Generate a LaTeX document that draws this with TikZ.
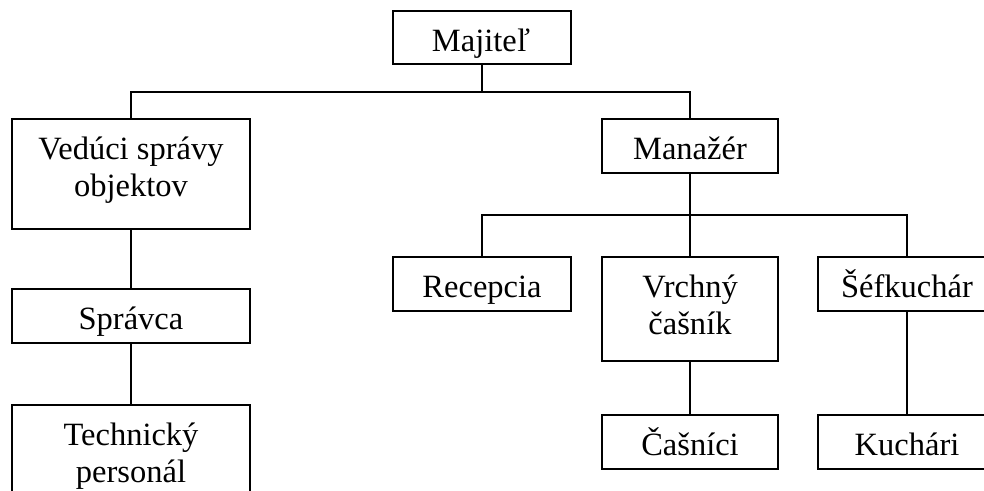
\documentclass[tikz,border=0pt]{standalone}
\usepackage{fontspec}
\setmainfont{Liberation Serif}
\begin{document}
\begin{tikzpicture}[x=1pt,y=-1pt,
  box/.style={draw=black, line width=1.7pt, rectangle, inner sep=0pt, minimum width=#1},
  box/.default=178pt,
  lbl/.style={anchor=base, inner sep=0pt, font=\fontsize{32.5}{37}\selectfont},
  conn/.style={draw=black, line width=1.5pt}]
\useasboundingbox (0,0) rectangle (984,490);
\clip (0,0) rectangle (984,490);
% boxes
\node[box=178pt, minimum height=53pt]  (maj)  at (482,37.5) {};
\node[box=238pt, minimum height=110pt] (ved)  at (131,174) {};
\node[box=176pt, minimum height=54pt]  (man)  at (690,146) {};
\node[box=238pt, minimum height=54pt]  (spr)  at (131,316) {};
\node[box=238pt, minimum height=110pt] (tech) at (131,460) {};
\node[box=178pt, minimum height=54pt]  (rec)  at (482,284) {};
\node[box=176pt, minimum height=104pt] (vrch) at (690,309) {};
\node[box=178pt, minimum height=54pt]  (sef)  at (907,284) {};
\node[box=176pt, minimum height=54pt]  (cas)  at (690,442) {};
\node[box=178pt, minimum height=54pt]  (kuch) at (907,442) {};
% labels
\node[lbl] (tmaj) at (481,51) {Majiteľ};
\node[lbl] (tved1) at (131,159) {Vedúci správy};
\node[lbl] (tved2) at (131,196) {objektov};
\node[lbl] (tman) at (690,159) {Manažér};
\node[lbl] (tspr) at (131,329) {Správca};
\node[lbl] (ttech1) at (131,445) {Technický};
\node[lbl] (ttech2) at (131,482) {personál};
\node[lbl] (trec) at (482,297) {Recepcia};
\node[lbl] (tvrch1) at (690,297) {Vrchný};
\node[lbl] (tvrch2) at (690,334) {čašník};
\node[lbl] (tsef) at (907,297) {Šéfkuchár};
\node[lbl] (tcas) at (690,455) {Čašníci};
\node[lbl] (tkuch) at (907,455) {Kuchári};
% connectors
\coordinate (b1) at (482,92);
\coordinate (b2) at (690,215);
\draw[conn] (maj.south) -- (b1);
\draw[conn] (ved.north) |- (b1) -| (man.north);
\draw[conn] (man.south) -- (b2);
\draw[conn] (rec.north) |- (b2) -| (sef.north);
\draw[conn] (b2) -- (vrch.north);
\draw[conn] (ved.south) -- (spr.north);
\draw[conn] (spr.south) -- (tech.north);
\draw[conn] (vrch.south) -- (cas.north);
\draw[conn] (sef.south) -- (kuch.north);
\end{tikzpicture}
\end{document}
